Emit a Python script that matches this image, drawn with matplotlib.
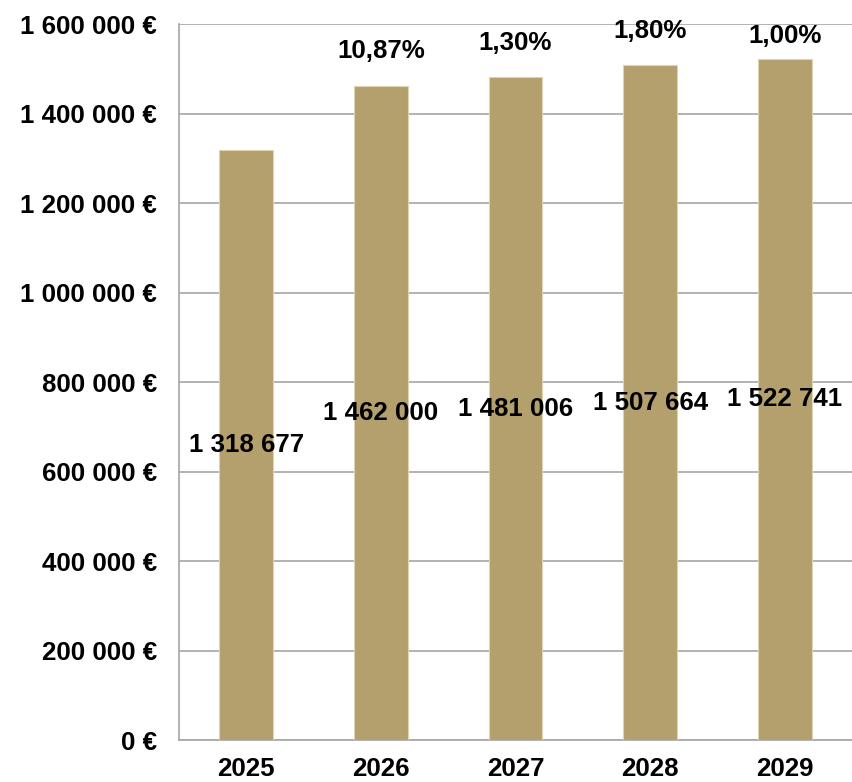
import matplotlib
matplotlib.use("Agg")
import matplotlib.pyplot as plt

years = ["2025", "2026", "2027", "2028", "2029"]
values = [1318677, 1462000, 1481006, 1507664, 1522741]
growth = ["", "10,87%", "1,30%", "1,80%", "1,00%"]
yticks = [0, 200000, 400000, 600000, 800000, 1000000, 1200000, 1400000, 1600000]

# label offsets above bar tops (points) - style only
pct_offsets = [25, 25, 25, 25, 16]

def fmt(v):
    return f"{v:,}".replace(",", " ")

plt.rcParams['font.family'] = ['Liberation Sans', 'DejaVu Sans']
fig = plt.figure(figsize=(8.52, 7.82), dpi=100)
ax = fig.add_axes([0.2101, 0.0537, 0.7899, 0.9156])

FS = 18.6
x = list(range(len(years)))
bars = ax.bar(x, values, width=0.4, color="#B3A06C", edgecolor="#DDD3B5", linewidth=0.8, zorder=3)
ax.set_xlim(-0.5, len(years) - 0.5)
ax.set_ylim(0, 1600000)
ax.set_yticks(yticks)
ax.set_yticklabels([("0 €" if t == 0 else fmt(t) + " €") for t in yticks],
                   fontsize=FS, fontweight="bold")
ax.set_xticks(x)
ax.set_xticklabels(years, fontsize=FS, fontweight="bold")
ax.tick_params(axis="both", length=0)
ax.tick_params(axis="y", pad=16)
ax.tick_params(axis="x", pad=12)
ax.yaxis.grid(True, color="#A6A6A6", linewidth=1.2, zorder=0)
for s in ["top", "right"]:
    ax.spines[s].set_visible(False)
for s in ["left", "bottom"]:
    ax.spines[s].set_color("#A6A6A6")
    ax.spines[s].set_linewidth(1.2)

for xi, v, g, off in zip(x, values, growth, pct_offsets):
    ax.text(xi, v / 2, fmt(v), ha="center", va="center", fontsize=FS, fontweight="bold", zorder=4)
    if g:
        ax.annotate(g, (xi, v), xytext=(0, off), textcoords="offset points",
                    ha="center", va="center", fontsize=FS, fontweight="bold", zorder=4)

fig.savefig("out.png", dpi=100)
